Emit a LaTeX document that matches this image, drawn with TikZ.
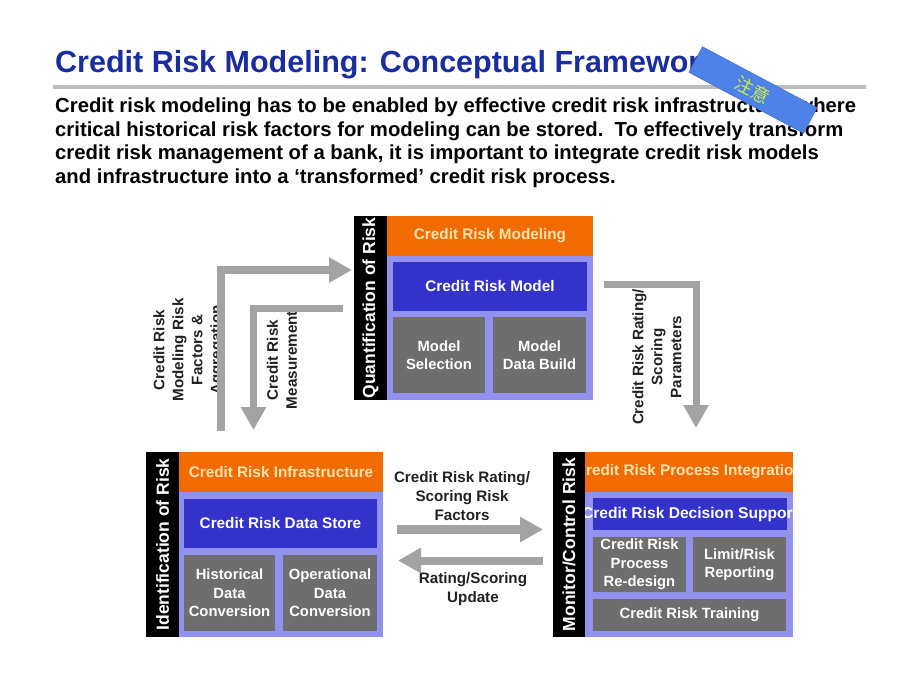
\documentclass[tikz,border=0pt]{standalone}
\usepackage{fontspec}
\setmainfont{Liberation Sans}
\newfontfamily\cjk{Noto Sans CJK SC}
\usetikzlibrary{arrows.meta}
\definecolor{titleblue}{HTML}{1A2DA0}
\definecolor{boxorange}{HTML}{F26B00}
\definecolor{hdrtext}{HTML}{FFE4B0}
\definecolor{lavender}{HTML}{9292EE}
\definecolor{modelblue}{HTML}{3333CC}
\definecolor{boxgray}{HTML}{6E6E6E}
\definecolor{arrowgray}{HTML}{A3A3A3}
\definecolor{rulegray}{HTML}{BDBDBD}
\definecolor{stickerblue}{HTML}{4F82E8}
\definecolor{stickertext}{HTML}{CDEE48}
\definecolor{labeltext}{HTML}{222222}
\tikzset{
  box/.style={inner sep=0pt, outer sep=0pt, align=center},
  strip/.style={box, fill=black, text=white, rotate=90, font=\fontsize{17.5}{20}\selectfont\bfseries},
  hdr/.style={box, fill=boxorange, text=hdrtext, font=\fontsize{15.3}{18}\selectfont\bfseries},
  bodybg/.style={box, fill=lavender},
  bluebox/.style={box, fill=modelblue, text=white, font=\fontsize{15.3}{18}\selectfont\bfseries},
  graybox/.style={box, fill=boxgray, text=white, font=\fontsize{14.8}{18.5}\selectfont\bfseries},
  alabel/.style={align=center, inner sep=0pt, text=labeltext, font=\fontsize{15.2}{19}\selectfont\bfseries},
  bigarrow/.style={draw=arrowgray, line width=#1, line join=miter,
     -{Triangle[width=24pt,length=23pt]}},
  bigarrow/.default=8pt
}
\begin{document}
\begin{tikzpicture}[x=1pt,y=-1pt]
\useasboundingbox (0,0) rectangle (920,690);
\fill[white] (0,0) rectangle (920,690);

% ---------- title and text ----------
\node[anchor=base west, inner sep=0pt, text=titleblue, font=\fontsize{30.5}{34}\selectfont\bfseries] (title) at (55,73) {Credit Risk Modeling: Conceptual Framework};
\draw[rulegray, line width=4pt] (53,87) -- (866,87);
\node[anchor=base west, inner sep=0pt, align=left, font=\fontsize{20.3}{23.4}\selectfont\bfseries] (intro) at (55,183)
 {Credit risk modeling has to be enabled by effective credit risk infrastructure, where\\
  critical historical risk factors for modeling can be stored.\ \ To effectively transform\\
  credit risk management of a bank, it is important to integrate credit risk models\\
  and infrastructure into a `transformed' credit risk process.};

% ---------- Quantification block ----------
\node[strip, minimum width=184pt, minimum height=33pt] (qstrip) at (370.5,308) {Quantification of Risk};
\node[hdr, minimum width=206pt, minimum height=40pt] (qhead) at (490,236) {Credit Risk Modeling};
\node[bodybg, minimum width=206pt, minimum height=144pt] (qbody) at (490,328) {};
\node[bluebox, minimum width=194pt, minimum height=49pt] (qmodel) at (490,286.5) {Credit Risk Model};
\node[graybox, minimum width=92pt, minimum height=76pt] (qsel) at (439,355) {Model\\Selection};
\node[graybox, minimum width=93pt, minimum height=76pt] (qbuild) at (539.5,355) {Model\\Data Build};

% ---------- Identification block ----------
\node[strip, minimum width=185pt, minimum height=33pt] (istrip) at (162.5,544.5) {Identification of Risk};
\node[hdr, minimum width=204pt, minimum height=40pt] (ihead) at (281,472) {Credit Risk Infrastructure};
\node[bodybg, minimum width=204pt, minimum height=145pt] (ibody) at (281,564.5) {};
\node[bluebox, minimum width=193pt, minimum height=49pt] (istore) at (280.5,523.5) {Credit Risk Data Store};
\node[graybox, minimum width=91pt, minimum height=76pt] (ihist) at (229.5,593) {Historical\\Data\\Conversion};
\node[graybox, minimum width=94pt, minimum height=76pt] (iop) at (330,593) {Operational\\Data\\Conversion};

% ---------- Monitor block ----------
\node[strip, minimum width=185pt, minimum height=32pt] (mstrip) at (569,544.5) {Monitor/Control Risk};
\node[box, fill=boxorange, minimum width=208pt, minimum height=40pt] (mhead) at (689,472) {};
\node[bodybg, minimum width=208pt, minimum height=145pt] (mbody) at (689,564.5) {};
\node[box, fill=modelblue, minimum width=194pt, minimum height=32pt] (mdec) at (690,514) {};
\begin{scope}
  \clip (mhead.north west) rectangle (mhead.south east);
  \node[box, text=hdrtext, font=\fontsize{15.3}{18}\selectfont\bfseries] (mheadtxt) at (689,472) {Credit Risk Process Integration};
\end{scope}
\begin{scope}
  \clip (mbody.north west) rectangle (mbody.south east);
  \node[box, text=white, font=\fontsize{15.6}{18}\selectfont\bfseries] (mdectxt) at (690,514) {Credit Risk Decision Support};
\end{scope}
\node[graybox, minimum width=93pt, minimum height=55pt] (mproc) at (639.5,564.5) {Credit Risk\\Process\\Re-design};
\node[graybox, minimum width=93pt, minimum height=55pt] (mlim) at (739.5,564.5) {Limit/Risk\\Reporting};
\node[graybox, minimum width=193pt, minimum height=32pt] (mtrain) at (689.5,615) {Credit Risk Training};

% ---------- arrow labels ----------
\node[alabel, rotate=90] (l1) at (189,350) {Credit Risk\\Modeling Risk\\Factors \&\\Aggregation};
\node[alabel, rotate=90] (l2) at (282,360) {Credit Risk\\Measurement};
\node[alabel, rotate=90] (l3) at (657,357) {Credit Risk Rating/\\Scoring\\Parameters};
\node[alabel] (l4) at (462,496) {Credit Risk Rating/\\Scoring Risk\\Factors};
\node[alabel] (l5) at (473,589) {Rating/Scoring\\Update};

% ---------- arrows ----------
\coordinate (a1s) at (221,431);
\coordinate (a1e) at (352,270);
\coordinate (a2s) at (343,308);
\coordinate (a2e) at (253.5,430);
\coordinate (a3s) at (604,284);
\coordinate (a3e) at (696,428);
\coordinate (a4s) at (397,529.5);
\coordinate (a4e) at (543,529.5);
\coordinate (a5s) at (543,560.5);
\coordinate (a5e) at (398,560.5);
\draw[bigarrow=8pt] (a1s) |- (a1e);
\draw[bigarrow=7pt] (a2s) -| (a2e);
\draw[bigarrow=7pt] (a3s) -| (a3e);
\draw[bigarrow=9pt] (a4s) -- (a4e);
\draw[bigarrow=8pt] (a5s) -- (a5e);

% ---------- sticker ----------
\node[rotate=-28, fill=stickerblue, draw=stickerblue!80!black, line width=0.4pt,
      minimum width=130pt, minimum height=29pt, inner sep=0pt,
      text=stickertext, font=\cjk\fontsize{18}{20}\selectfont] (sticker) at (753,90) {注意};
\end{tikzpicture}
\end{document}
